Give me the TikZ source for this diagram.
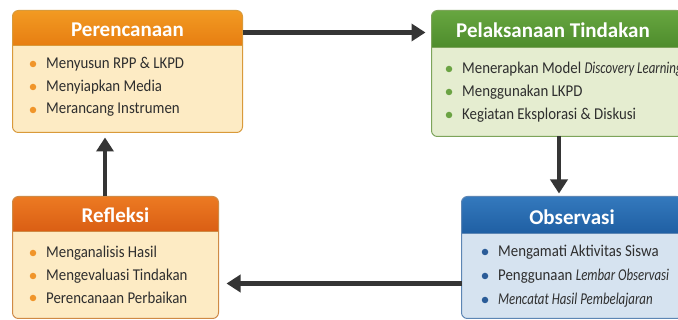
\documentclass[tikz,border=0pt]{standalone}
\usepackage{fontspec}
\setmainfont{Carlito}
\newfontfamily\itemfont{Carlito}[FakeStretch=0.9, ItalicFeatures={FakeStretch=0.78}]
\usetikzlibrary{arrows.meta,calc}
\definecolor{orTop}{HTML}{F29A22}
\definecolor{orBot}{HTML}{E77E12}
\definecolor{orBody}{HTML}{FDEBC4}
\definecolor{orBorder}{HTML}{D99A3A}
\definecolor{orDot}{HTML}{F0952A}
\definecolor{rdTop}{HTML}{EC7A22}
\definecolor{rdBot}{HTML}{DA5E14}
\definecolor{rdBorder}{HTML}{CF8A45}
\definecolor{grTop}{HTML}{67A640}
\definecolor{grBot}{HTML}{4E8C2C}
\definecolor{grBody}{HTML}{E5EDD0}
\definecolor{grBorder}{HTML}{7DA45A}
\definecolor{grDot}{HTML}{6BA343}
\definecolor{blTop}{HTML}{3479BD}
\definecolor{blBot}{HTML}{1F5FA3}
\definecolor{blBody}{HTML}{D6E3F0}
\definecolor{blBorder}{HTML}{5D86B4}
\definecolor{blDot}{HTML}{2B5C98}
\definecolor{arrowcol}{HTML}{353535}
\definecolor{txt}{HTML}{2E2E2E}
\tikzset{
  panel/.style={rectangle, rounded corners=6pt, line width=1pt, inner sep=0pt},
  title/.style={text=white, font=\bfseries\fontsize{21}{24}\selectfont},
  item/.style={anchor=west, inner sep=0pt, text=txt, font=\itemfont\fontsize{16.5}{19}\selectfont},
  bullet/.style={circle, inner sep=0pt, minimum size=6.5pt},
  flow/.style={arrowcol, line width=4.5pt, -{Triangle[length=14pt,width=17pt]}}
}
\begin{document}
\begin{tikzpicture}[x=1pt,y=-1pt]
\useasboundingbox (0,0) rectangle (678,320);
\clip (0,0) rectangle (678,320);
\fill[white] (0,0) rectangle (678,320);

% ---------- Perencanaan
\node[panel, fill=orBody, minimum width=229pt, minimum height=121pt] (per) at (127.5,71.5) {};
\begin{scope}
  \clip[rounded corners=6pt] (per.north west) rectangle (per.south east);
  \shade[top color=orTop, bottom color=orBot] (per.north west) rectangle ($(per.north east)+(0,35)$);
\end{scope}
\draw[orBorder, line width=0.8pt] ($(per.north west)+(0,35)$) -- ($(per.north east)+(0,35)$);
\draw[orBorder, line width=1pt, rounded corners=6pt] (per.north west) rectangle (per.south east);
\node[title] (perT) at (127.5,30) {Perencanaan};
\node[bullet, fill=orDot] (perb1) at (33,64) {};
\node[bullet, fill=orDot] (perb2) at (33,87) {};
\node[bullet, fill=orDot] (perb3) at (33,110) {};
\node[item] (per1) at (46,64) {Menyusun RPP \& LKPD};
\node[item] (per2) at (46,87) {Menyiapkan Media};
\node[item] (per3) at (46,110) {Merancang Instrumen};

% ---------- Pelaksanaan
\node[panel, fill=grBody, minimum width=250pt, minimum height=125pt] (pel) at (557,73.5) {};
\begin{scope}
  \clip[rounded corners=6pt] (pel.north west) rectangle (pel.south east);
  \shade[top color=grTop, bottom color=grBot] (pel.north west) rectangle ($(pel.north east)+(0,37)$);
\end{scope}
\draw[grBorder, line width=0.8pt] ($(pel.north west)+(0,37)$) -- ($(pel.north east)+(0,37)$);
\draw[grBorder, line width=1pt, rounded corners=6pt] (pel.north west) rectangle (pel.south east);
\node[title] (pelT) at (553,30) {Pelaksanaan Tindakan};
\node[bullet, fill=grDot] (pelb1) at (449,69) {};
\node[bullet, fill=grDot] (pelb2) at (449,92) {};
\node[bullet, fill=grDot] (pelb3) at (449,115) {};
\node[item] (pel1) at (462,69) {Menerapkan Model \textit{Discovery Learning}};
\node[item] (pel2) at (462,92) {Menggunakan LKPD};
\node[item] (pel3) at (462,115) {Kegiatan Eksplorasi \& Diskusi};

% ---------- Refleksi
\node[panel, fill=orBody, minimum width=205pt, minimum height=121pt] (ref) at (115.5,257.5) {};
\begin{scope}
  \clip[rounded corners=6pt] (ref.north west) rectangle (ref.south east);
  \shade[top color=rdTop, bottom color=rdBot] (ref.north west) rectangle ($(ref.north east)+(0,35)$);
\end{scope}
\draw[rdBorder, line width=0.8pt] ($(ref.north west)+(0,35)$) -- ($(ref.north east)+(0,35)$);
\draw[rdBorder, line width=1pt, rounded corners=6pt] (ref.north west) rectangle (ref.south east);
\node[title] (refT) at (115.5,215) {Refleksi};
\node[bullet, fill=orDot] (refb1) at (33,253) {};
\node[bullet, fill=orDot] (refb2) at (33,276) {};
\node[bullet, fill=orDot] (refb3) at (33,298) {};
\node[item] (ref1) at (46,253) {Menganalisis Hasil};
\node[item] (ref2) at (46,276) {Mengevaluasi Tindakan};
\node[item] (ref3) at (46,298) {Perencanaan Perbaikan};

% ---------- Observasi
\node[panel, fill=blBody, minimum width=220pt, minimum height=121pt] (obs) at (572,257.5) {};
\begin{scope}
  \clip[rounded corners=6pt] (obs.north west) rectangle (obs.south east);
  \shade[top color=blTop, bottom color=blBot] (obs.north west) rectangle ($(obs.north east)+(0,37)$);
\end{scope}
\draw[blBorder, line width=0.8pt] ($(obs.north west)+(0,37)$) -- ($(obs.north east)+(0,37)$);
\draw[blBorder, line width=1pt, rounded corners=6pt] (obs.north west) rectangle (obs.south east);
\node[title] (obsT) at (572,217) {Observasi};
\node[bullet, fill=blDot] (obsb1) at (485,252) {};
\node[bullet, fill=blDot] (obsb2) at (485,276) {};
\node[bullet, fill=blDot] (obsb3) at (485,300) {};
\node[item] (obs1) at (498,252) {Mengamati Aktivitas Siswa};
\node[item] (obs2) at (498,276) {Penggunaan \textit{Lembar Observasi}};
\node[item] (obs3) at (498,300) {\textit{Mencatat Hasil Pembelajaran}};

% ---------- arrows
\draw[flow] ($(per.north east)+(0,22)$) -- ($(pel.north west)+(-6,22)$);
\draw[flow] (pel.south -| 559,0) -- ($(obs.north -| 559,0)+(0,-3)$);
\draw[flow] ($(obs.north west)+(0,87)$) -- ($(ref.north east)+(8,87)$);
\draw[flow] (ref.north -| 105,0) -- ($(per.south -| 105,0)+(0,5)$);
\end{tikzpicture}
\end{document}
